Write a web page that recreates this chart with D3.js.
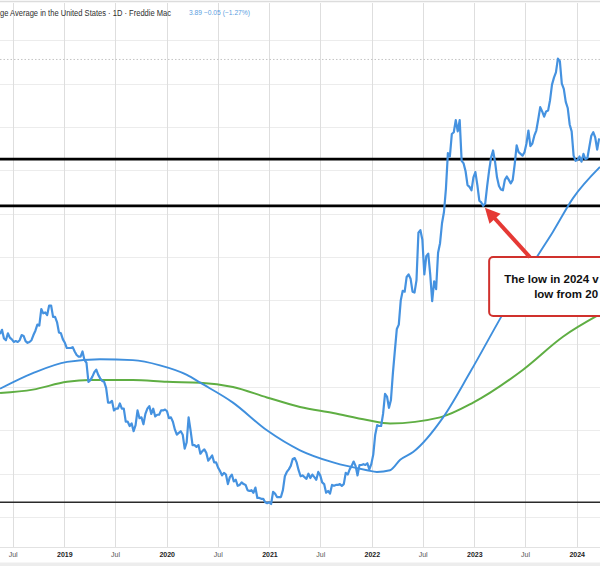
<!DOCTYPE html>
<html><head><meta charset="utf-8">
<script src="https://cdn.jsdelivr.net/npm/d3@7"></script>
<style>html,body{margin:0;padding:0;background:#fff;overflow:hidden}svg{display:block}</style>
</head><body><svg id="c" width="600" height="566"></svg>
<script>
// ---- data (weekly 30-yr fixed mortgage average) ----
const firstWeek = "2018-05-17";
const weekStepDays = 7;
const rates2018 = [4.61,4.66,4.56,4.54,4.62,4.57,4.55,4.52,4.53,4.52,4.54,4.60,4.59,4.53,4.51,4.52,4.54,4.60,4.65,4.72,4.71,4.90,4.85,4.86,4.83,4.94,4.94,4.81,4.81,4.75,4.63,4.62,4.55];
const rates2019 = [4.51,4.45,4.45,4.45,4.46,4.41,4.37,4.35,4.35,4.41,4.31,4.28,4.06,4.08,4.12,4.17,4.20,4.14,4.10,4.07,4.06,3.99,3.82,3.82,3.84,3.73,3.75,3.75,3.81,3.75,3.75,3.60,3.60,3.55,3.58,3.49,3.56,3.73,3.64,3.65,3.57,3.69,3.75,3.78,3.69,3.75,3.66,3.68,3.68,3.73,3.73,3.74];
const rates2020 = [3.72,3.64,3.65,3.60,3.51,3.45,3.47,3.49,3.45,3.29,3.36,3.65,3.50,3.33,3.33,3.31,3.33,3.23,3.26,3.28,3.24,3.15,3.18,3.21,3.13,3.13,3.07,3.03,2.98,3.01,2.99,2.88,2.96,2.99,2.91,2.93,2.86,2.87,2.90,2.88,2.87,2.81,2.80,2.81,2.78,2.84,2.72,2.72,2.71,2.71,2.67,2.66,2.67];
const rates2021 = [2.65,2.79,2.77,2.73,2.73,2.73,2.81,2.97,3.02,3.05,3.09,3.17,3.18,3.13,3.04,2.97,2.98,2.96,2.94,3.00,2.95,2.99,2.96,2.93,3.02,2.98,2.90,2.88,2.78,2.80,2.77,2.87,2.86,2.87,2.87,2.88,2.86,2.88,3.01,2.99,3.05,3.09,3.14,3.09,2.98,3.10,3.10,3.11,3.10,3.12,3.05,3.11];
const rates2022 = [3.22,3.45,3.56,3.55,3.55,3.69,3.92,3.89,3.76,3.85,4.16,4.42,4.67,4.72,5.00,5.11,5.10,5.27,5.30,5.25,5.10,5.09,5.23,5.78,5.81,5.70,5.30,5.51,5.54,5.30,4.99,5.22,5.13,5.55,5.66,5.89,6.02,6.29,6.70,6.66,6.92,6.94,7.08,6.95,7.08,6.61,6.58,6.49,6.33,6.31,6.27,6.42];
const rates2023 = [6.48,6.33,6.15,6.13,6.09,6.12,6.32,6.50,6.65,6.73,6.60,6.42,6.32,6.28,6.27,6.39,6.43,6.39,6.35,6.39,6.57,6.79,6.71,6.69,6.67,6.71,6.81,6.96,6.78,6.81,6.90,6.96,7.09,7.23,7.18,7.12,7.18,7.19,7.31,7.49,7.57,7.63,7.79,7.76,7.50,7.44,7.29,7.22,7.03,6.95,6.67,6.61];
const rates2024 = [6.62,6.66,6.60,6.69,6.63,6.64,6.77,6.90,6.94,6.88,6.74,6.87];

const fastMaDates  = ["2018-05-17","2018-09-11","2019-01-11","2019-05-08","2019-09-02","2019-12-08","2020-03-13","2020-04-29","2020-08-24","2020-12-23","2021-04-20","2021-08-16","2021-12-15","2022-01-19","2022-03-07","2022-04-12","2022-05-28","2022-09-12","2022-12-17","2023-04-14","2023-06-13","2023-08-16","2023-10-08","2023-12-19","2024-03-24"];
const fastMaValues = [3.98,4.16,4.29,4.32,4.31,4.25,4.14,4.05,3.82,3.50,3.27,3.13,3.04,3.02,3.04,3.16,3.25,3.65,4.17,4.85,5.18,5.52,5.79,6.18,6.54];

const slowMaDates  = ["2018-05-17","2018-09-11","2019-01-11","2019-04-02","2019-09-02","2020-01-02","2020-04-29","2020-08-24","2020-12-23","2021-04-20","2021-08-16","2021-12-15","2022-03-07","2022-09-01","2022-12-28","2023-06-24","2023-11-13","2024-03-24"];
const slowMaValues = [3.93,3.97,4.06,4.08,4.08,4.06,4.05,4.00,3.88,3.77,3.70,3.62,3.58,3.65,3.82,4.20,4.58,4.84];

const tickDates  = ["2018-07-01","2019-01-01","2019-07-01","2020-01-01","2020-07-01","2021-01-01","2021-07-01","2022-01-01","2022-07-01","2023-01-01","2023-07-01","2024-01-01"];
const tickLabels = ["Jul","2019","Jul","2020","Jul","2021","Jul","2022","Jul","2023","Jul","2024"];
const gridValues = [2.5,3.0,3.5,4.0,4.5,5.0,5.5,6.0,6.5,7.0,7.5,8.0];
const thickLevels = [6.63, 6.09];
const lowLevel = 2.67;
const peakLevel = 7.78;

const titleText = "ge Average in the United States \u00b7 1D \u00b7 Freddie Mac";
const valueText = "3.89 \u22120.05 (\u22121.27%)";
const noteLines = ["The low in 2024 v", "low from 20"];
const noteBox = {date: "2023-02-23", top: 5.50, bottom: 4.82};
const arrowTip = {date: "2023-02-08", value: 6.07};
const arrowTail = {date: "2023-07-18", value: 5.50};

// ---- build ----
const W = 600, H = 566;
const P = d3.utcParse("%Y-%m-%d");
const svg = d3.select("#c");
const x = d3.scaleUtc().domain([P("2019-01-01"), P("2024-01-01")]).range([64.3, 576.7]);
const y = d3.scaleLinear().domain([2.5, 8.0]).range([517, 40.4]);

const allRates = [].concat(rates2018, rates2019, rates2020, rates2021, rates2022, rates2023, rates2024);
const start = P(firstWeek);
const price = allRates.map((v, i) => ({date: d3.utcDay.offset(start, i * weekStepDays), value: v}));
const fastMa = fastMaDates.map((d, i) => ({date: P(d), value: fastMaValues[i]}));
const slowMa = slowMaDates.map((d, i) => ({date: P(d), value: slowMaValues[i]}));

const plotBottom = 547;
svg.append("rect").attr("width", W).attr("height", H).attr("fill", "#fff");
svg.append("defs").append("clipPath").attr("id", "plot")
  .append("rect").attr("x", 0).attr("y", 0).attr("width", W).attr("height", plotBottom);

// top border
svg.append("line").attr("x1", 0).attr("x2", W).attr("y1", 1.5).attr("y2", 1.5)
  .attr("stroke", "#dcdcdc").attr("stroke-width", 1.5);

// horizontal grid
svg.append("g").selectAll("line").data(gridValues).join("line")
  .attr("x1", 0).attr("x2", W)
  .attr("y1", d => Math.round(y(d)) + 0.5).attr("y2", d => Math.round(y(d)) + 0.5)
  .attr("stroke", "#ececec").attr("stroke-width", 1);

// vertical grid
svg.append("g").selectAll("line").data(tickDates).join("line")
  .attr("x1", d => Math.round(x(P(d))) + 0.5).attr("x2", d => Math.round(x(P(d))) + 0.5)
  .attr("y1", 3).attr("y2", plotBottom)
  .attr("stroke", "#dedede").attr("stroke-width", 1);

const g = svg.append("g").attr("clip-path", "url(#plot)");

// peak dotted line
g.append("line").attr("x1", 0).attr("x2", W).attr("y1", y(peakLevel)).attr("y2", y(peakLevel))
  .attr("stroke", "#c4c4c4").attr("stroke-width", 1).attr("stroke-dasharray", "1.5,2");

// low line
g.append("line").attr("x1", 0).attr("x2", W).attr("y1", y(lowLevel)).attr("y2", y(lowLevel))
  .attr("stroke", "#2a2a2a").attr("stroke-width", 1.4);

// thick level lines
g.selectAll(".lvl").data(thickLevels).join("line").attr("class", "lvl")
  .attr("x1", 0).attr("x2", W).attr("y1", d => y(d)).attr("y2", d => y(d))
  .attr("stroke", "#000").attr("stroke-width", 2.8);

const maLine = d3.line().x(d => x(d.date)).y(d => y(d.value)).curve(d3.curveMonotoneX);
g.append("path").datum(slowMa).attr("d", maLine)
  .attr("fill", "none").attr("stroke", "#5fae43").attr("stroke-width", 2);
g.append("path").datum(fastMa).attr("d", maLine)
  .attr("fill", "none").attr("stroke", "#3f8fdd").attr("stroke-width", 1.9);

const priceLine = d3.line().x(d => x(d.date)).y(d => y(d.value));
g.append("path").datum(price).attr("d", priceLine)
  .attr("fill", "none").attr("stroke", "#4592e0").attr("stroke-width", 2.2)
  .attr("stroke-linejoin", "round");

// annotation box
const bx = x(P(noteBox.date)), by = y(noteBox.top), bh = y(noteBox.bottom) - y(noteBox.top);
g.append("rect").attr("x", bx).attr("y", by).attr("width", 160).attr("height", bh)
  .attr("rx", 4).attr("fill", "#fff").attr("stroke", "#d0312d").attr("stroke-width", 2);
const noteStarts = [15, 45];
svg.selectAll(".note").data(noteLines).join("text").attr("class", "note")
  .attr("x", (d, i) => bx + noteStarts[i])
  .attr("y", (d, i) => by + 26 + i * 14.5)
  .attr("font-family", "Liberation Sans, Arial, sans-serif")
  .attr("font-weight", "bold").attr("font-size", 11.5).attr("fill", "#111")
  .text(d => d);

// arrow
const tx = x(P(arrowTip.date)), ty = y(arrowTip.value);
const sx = x(P(arrowTail.date)), sy = y(arrowTail.value);
const len = Math.hypot(tx - sx, ty - sy), ux = (tx - sx) / len, uy = (ty - sy) / len;
const headL = 15, headW = 7.5;
const hx = tx - ux * headL, hy = ty - uy * headL;
g.append("line").attr("x1", sx).attr("y1", sy).attr("x2", hx + ux * 2).attr("y2", hy + uy * 2)
  .attr("stroke", "#e53935").attr("stroke-width", 4);
g.append("path")
  .attr("d", `M${tx},${ty}L${hx - uy * headW},${hy + ux * headW}L${hx + uy * headW},${hy - ux * headW}Z`)
  .attr("fill", "#e53935");

// title
svg.append("text").attr("x", 0).attr("y", 15.5)
  .attr("font-family", "Liberation Sans, Arial, sans-serif").attr("font-size", 8.4).attr("fill", "#2e2e2e")
  .attr("textLength", 171).attr("lengthAdjust", "spacingAndGlyphs")
  .text(titleText);
svg.append("text").attr("x", 189).attr("y", 15)
  .attr("font-family", "Liberation Sans, Arial, sans-serif").attr("font-size", 6.6).attr("fill", "#5a9ee0")
  .attr("textLength", 61).attr("lengthAdjust", "spacingAndGlyphs")
  .text(valueText);

// x axis
svg.append("line").attr("x1", 0).attr("x2", W).attr("y1", plotBottom + 0.5).attr("y2", plotBottom + 0.5)
  .attr("stroke", "#e2e2e2");
const ax = svg.append("g").attr("transform", `translate(0,${plotBottom})`)
  .call(d3.axisBottom(x).tickValues(tickDates.map(P)).tickSize(0).tickPadding(5)
    .tickFormat((d, i) => tickLabels[i]));
ax.select(".domain").remove();
ax.selectAll("text")
  .attr("font-family", "Liberation Sans, Arial, sans-serif").attr("font-size", 7)
  .attr("font-weight", (d, i) => tickLabels[i] === "Jul" ? "normal" : "bold")
  .attr("fill", (d, i) => tickLabels[i] === "Jul" ? "#555" : "#222");
svg.append("rect").attr("x", 0).attr("y", 562.5).attr("width", W).attr("height", H - 562.5).attr("fill", "#ededed");
</script></body></html>
